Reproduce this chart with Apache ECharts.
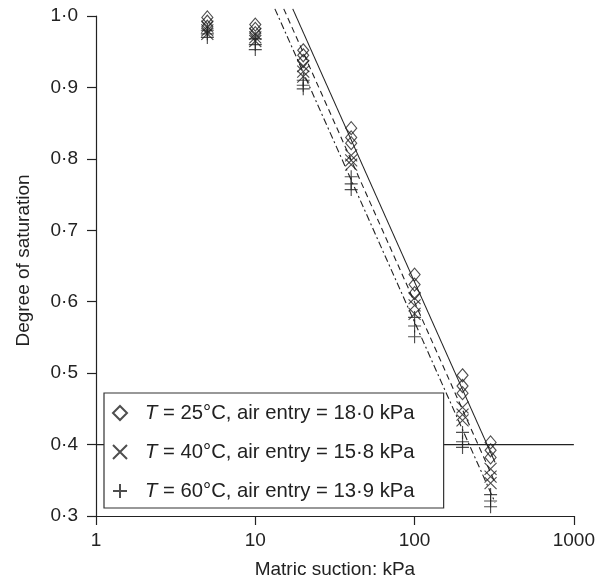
<!DOCTYPE html>
<html>
<head>
<meta charset="utf-8">
<script src="https://cdn.jsdelivr.net/npm/echarts@6/dist/echarts.min.js"></script>
<style>
  html, body { margin: 0; padding: 0; background: #fff; }
  #chart { width: 598px; height: 584px; }
</style>
</head>
<body>
<div id="chart"></div>
<script>
// Matric suction steps (kPa) at which saturation was measured
const suctions = [5, 10, 20, 40, 100, 200, 300];

// Degree of saturation, three specimens per suction step
const sat25 = [
  [0.998, 0.992, 0.985],
  [0.988, 0.982, 0.976],
  [0.952, 0.945, 0.937],
  [0.843, 0.830, 0.822],
  [0.638, 0.624, 0.612],
  [0.497, 0.482, 0.472],
  [0.403, 0.392, 0.382]
];
const sat40 = [
  [0.985, 0.980, 0.975],
  [0.975, 0.970, 0.965],
  [0.930, 0.922, 0.915],
  [0.805, 0.798, 0.792],
  [0.605, 0.595, 0.583],
  [0.452, 0.442, 0.434],
  [0.366, 0.355, 0.346]
];
const sat60 = [
  [0.980, 0.975, 0.970],
  [0.968, 0.960, 0.953],
  [0.910, 0.903, 0.898],
  [0.775, 0.765, 0.757],
  [0.578, 0.566, 0.551],
  [0.417, 0.404, 0.396],
  [0.330, 0.321, 0.313]
];

const temperatures = [25, 40, 60];
const airEntry = [18.0, 15.8, 13.9];      // kPa
const fitSlope = [0.5, 0.5, 0.5];          // drop in saturation per log decade of suction
const fitEndSuction = [320, 320, 320];     // kPa, where the fitted lines stop
const referenceSaturation = 0.4;

const xTicks = [1, 10, 100, 1000];
const yTicks = [0.3, 0.4, 0.5, 0.6, 0.7, 0.8, 0.9, 1.0];

const FONT = 'Liberation Sans';
const INK = '#222';

const decimalDot = v => v.replace('.', '\u00b7');

function points(sat) {
  const out = [];
  suctions.forEach((s, i) => sat[i].forEach(v => out.push([s, v])));
  return out;
}

function fitLine(k) {
  const ae = airEntry[k], b = fitSlope[k];
  const sStart = ae * Math.pow(10, -0.01 / b);   // line begins just above full saturation
  const sEnd = fitEndSuction[k];
  const sat = s => 1 - b * Math.log10(s / ae);
  return [[sStart, sat(sStart)], [sEnd, sat(sEnd)]];
}

const names = temperatures.map((t, k) =>
  `T = ${t}\u00b0C, air entry = ${decimalDot(airEntry[k].toFixed(1))} kPa`);

const markerStyle = { color: 'rgba(0,0,0,0)', borderColor: INK, borderWidth: 1.15 };
const symbols = [
  'diamond',
  'path://M0,0L10,10M10,0L0,10',
  'path://M5,0L5,10M0,5L10,5'
];
const symbolSizes = [[11, 13], 12, 13];
const dashes = ['solid', [6, 4], [7, 3, 2, 3]];
const sats = [sat25, sat40, sat60];

const series = [];
// reference line at S = 0.4
series.push({
  type: 'line',
  data: [[xTicks[0], referenceSaturation], [xTicks[xTicks.length - 1], referenceSaturation]],
  symbol: 'none',
  silent: true,
  lineStyle: { color: INK, width: 1.2 },
  z: 1
});
temperatures.forEach((t, k) => {
  series.push({
    type: 'line',
    data: fitLine(k),
    symbol: 'none',
    clip: false,
    silent: true,
    lineStyle: { color: INK, width: 1.1, type: dashes[k] },
    z: 2
  });
});
temperatures.forEach((t, k) => {
  series.push({
    name: names[k],
    type: 'scatter',
    data: points(sats[k]),
    symbol: symbols[k],
    symbolSize: symbolSizes[k],
    itemStyle: markerStyle,
    z: 3
  });
});

const chart = echarts.init(document.getElementById('chart'), null, { renderer: 'canvas' });
chart.setOption({
  animation: false,
  backgroundColor: '#fff',
  grid: { left: 96, right: 22, top: 16, bottom: 67 },
  xAxis: {
    type: 'log',
    logBase: 10,
    min: xTicks[0],
    max: xTicks[xTicks.length - 1],
    name: 'Matric suction: kPa',
    nameLocation: 'middle',
    nameGap: 44,
    nameTextStyle: { fontFamily: FONT, fontSize: 19, color: INK },
    axisLine: { lineStyle: { color: INK, width: 1.2 } },
    axisTick: { inside: false, length: 9, lineStyle: { color: INK, width: 1.2 } },
    minorTick: { show: false },
    splitLine: { show: false },
    axisLabel: {
      fontFamily: FONT, fontSize: 19, color: INK, margin: 15,
      formatter: v => String(Math.round(v))
    }
  },
  yAxis: {
    type: 'value',
    min: yTicks[0],
    max: yTicks[yTicks.length - 1],
    interval: 0.1,
    name: 'Degree of saturation',
    nameLocation: 'middle',
    nameGap: 63,
    nameTextStyle: { fontFamily: FONT, fontSize: 19, color: INK, padding: [0, 0, 0, 11] },
    axisLine: { show: true, lineStyle: { color: INK, width: 1.2 } },
    axisTick: { show: true, inside: false, length: 9, lineStyle: { color: INK, width: 1.2 } },
    splitLine: { show: false },
    axisLabel: {
      fontFamily: FONT, fontSize: 19, color: INK, margin: 18,
      formatter: v => decimalDot(v.toFixed(1))
    }
  },
  legend: {
    data: names,
    orient: 'vertical',
    left: 104,
    top: 393,
    padding: [10, 29, 7, 8],
    itemGap: 19,
    itemWidth: 14,
    itemHeight: 14,
    backgroundColor: '#fff',
    borderColor: '#333',
    borderWidth: 1.2,
    selectedMode: false,
    formatter: n => '{i|T}' + n.slice(1),
    textStyle: {
      fontFamily: FONT, fontSize: 20.3, color: INK,
      padding: [0, 0, 0, 13],
      rich: { i: { fontFamily: FONT, fontSize: 20.3, fontStyle: 'italic', color: INK } }
    }
  },
  series: series
});
</script>
</body>
</html>
